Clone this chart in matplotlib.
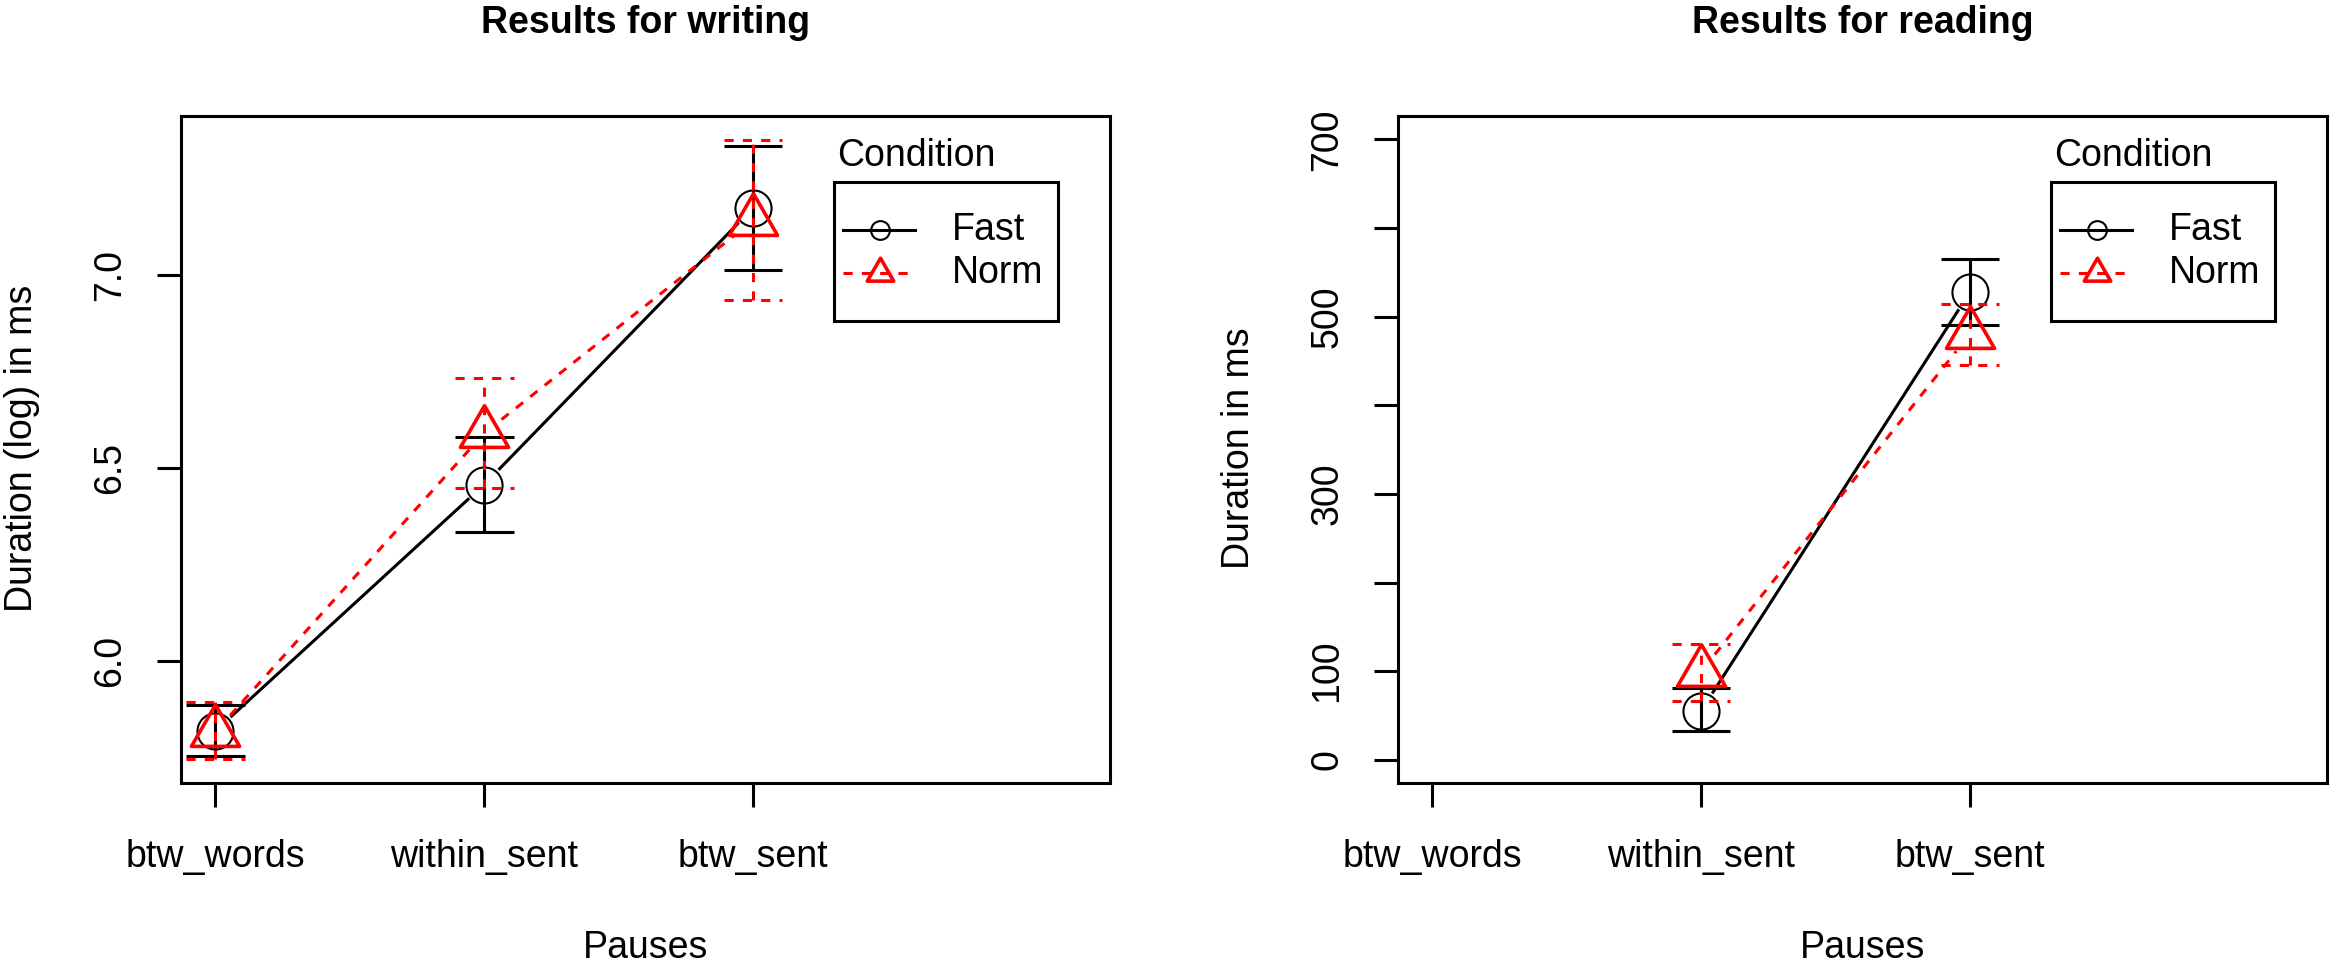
import numpy as np
import matplotlib
matplotlib.use("Agg")
import matplotlib.pyplot as plt
from matplotlib.path import Path
from matplotlib.patches import Rectangle

plt.rcParams['font.family'] = ['Liberation Sans', 'DejaVu Sans']

# ------------------------- data -------------------------
pauses = ["btw_words", "within_sent", "btw_sent"]
conditions = ["Fast", "Norm"]

# writing, log duration (mean, lower, upper)
write_fast = [5.819, 6.457, 7.173]
write_fast_lo = [5.754, 6.335, 7.012]
write_fast_hi = [5.886, 6.581, 7.334]
write_norm = [5.817, 6.590, 7.140]
write_norm_lo = [5.747, 6.448, 6.935]
write_norm_hi = [5.894, 6.733, 7.348]

# reading, duration in ms (no btw_words data)
read_fast = [np.nan, 55.4, 527.6]
read_fast_lo = [np.nan, 32.5, 490.0]
read_fast_hi = [np.nan, 80.5, 565.4]
read_norm = [np.nan, 99.4, 480.4]
read_norm_lo = [np.nan, 66.0, 445.6]
read_norm_hi = [np.nan, 131.0, 514.6]

write_ticks = [6.0, 6.5, 7.0]
write_ticklabels = ["6.0", "6.5", "7.0"]
read_ticks = [0, 100, 200, 300, 400, 500, 600, 700]
read_ticklabels = ["0", "100", "", "300", "", "500", "", "700"]

# R style triangle (pch 2), centred on its centroid
TRI = Path([(0, 1.555), (1.347, -0.778), (-1.347, -0.778), (0, 1.555)],
           [Path.MOVETO, Path.LINETO, Path.LINETO, Path.CLOSEPOLY])
DASH = (0, (3, 3))
LW = 2.2
FS = 27


def gapped_line(ax, xs, ys, gap, **kw):
    # like R type="b": segments stop short of the points
    pts = ax.transData.transform(np.column_stack([xs, ys]))
    inv = ax.transData.inverted()
    for i in range(len(xs) - 1):
        p0, p1 = pts[i], pts[i + 1]
        if np.any(np.isnan(p0)) or np.any(np.isnan(p1)):
            continue
        d = p1 - p0
        u = d / np.hypot(*d)
        a, b = inv.transform([p0 + u * gap, p1 - u * gap])
        ax.plot([a[0], b[0]], [a[1], b[1]], **kw)


def draw_legend(ax):
    ax.text(0.706, 0.939, "Condition", transform=ax.transAxes,
            fontsize=FS, ha="left", va="center")
    ax.add_patch(Rectangle((0.703, 0.693), 0.241, 0.208, transform=ax.transAxes,
                           fill=False, edgecolor="black", lw=2.2, clip_on=False))
    rows = [(0.8286, "black", "-", "o", 13.5, 1.5, conditions[0]),
            (0.7642, "red", DASH, TRI, 22, 2.6, conditions[1])]
    for y, col, ls, mk, ms, mew, lab in rows:
        ax.plot([0.7126, 0.790], [y, y], color=col, ls=ls, lw=LW,
                transform=ax.transAxes, clip_on=False)
        ax.plot([0.7524], [y], ls="none", marker=mk, ms=ms, mfc="none",
                mec=col, mew=mew, transform=ax.transAxes, clip_on=False)
        ax.text(0.830, y, lab, transform=ax.transAxes, fontsize=FS,
                ha="left", va="center")


def panel(ax, series, ylim, yticks, yticklabels, title, ylabel):
    x = np.arange(1, len(pauses) + 1)
    ax.set_xlim(0.872, 4.328)
    ax.set_ylim(ylim)

    styles = [("black", "-", "o", 26, 1.5), ("red", DASH, TRI, 40, 2.6)]
    for (m, lo, hi), (col, ls, mk, ms, mew) in zip(series, styles):
        m, lo, hi = np.array(m), np.array(lo), np.array(hi)
        gapped_line(ax, x, m, 22, color=col, ls=ls, lw=LW)
        ok = ~np.isnan(m)
        ax.vlines(x[ok], lo[ok], hi[ok], colors=col, linestyles=ls, lw=LW)
        ax.hlines(lo[ok], x[ok] - 0.109, x[ok] + 0.109, colors=col, linestyles=ls, lw=LW)
        ax.hlines(hi[ok], x[ok] - 0.109, x[ok] + 0.109, colors=col, linestyles=ls, lw=LW)
        ax.plot(x[ok], m[ok], ls="none", marker=mk, ms=ms, mfc="none",
                mec=col, mew=mew)

    ax.set_xticks(x)
    ax.set_xticklabels(pauses)
    ax.set_yticks(yticks)
    ax.set_yticklabels(yticklabels, rotation=90, va="center")
    ax.tick_params(axis="both", length=17, width=2.2, labelsize=FS)
    ax.tick_params(axis="x", pad=23)
    ax.tick_params(axis="y", pad=21)
    for sp in ax.spines.values():
        sp.set_linewidth(2.2)

    ax.set_title(title, fontsize=27, fontweight="bold", y=1.126, va="center")
    ax.set_xlabel("Pauses", fontsize=FS)
    ax.xaxis.set_label_coords(0.5, -0.246)
    ax.xaxis.label.set_va("center")
    ax.set_ylabel(ylabel, fontsize=FS)
    ax.yaxis.set_label_coords(-0.171, 0.502)
    ax.yaxis.label.set_va("center")
    draw_legend(ax)


fig = plt.figure(figsize=(23.33, 9.65), dpi=100)
ax1 = fig.add_axes([0.0776, 0.1881, 0.3982, 0.6921])
ax2 = fig.add_axes([0.5992, 0.1881, 0.3982, 0.6921])

panel(ax1,
      [(write_fast, write_fast_lo, write_fast_hi),
       (write_norm, write_norm_lo, write_norm_hi)],
      (5.683, 7.412), write_ticks, write_ticklabels,
      "Results for writing", "Duration (log) in ms")
panel(ax2,
      [(read_fast, read_fast_lo, read_fast_hi),
       (read_norm, read_norm_lo, read_norm_hi)],
      (-26.7, 726.7), read_ticks, read_ticklabels,
      "Results for reading", "Duration in ms")

fig.savefig("out.png", dpi=100)
plt.close(fig)
